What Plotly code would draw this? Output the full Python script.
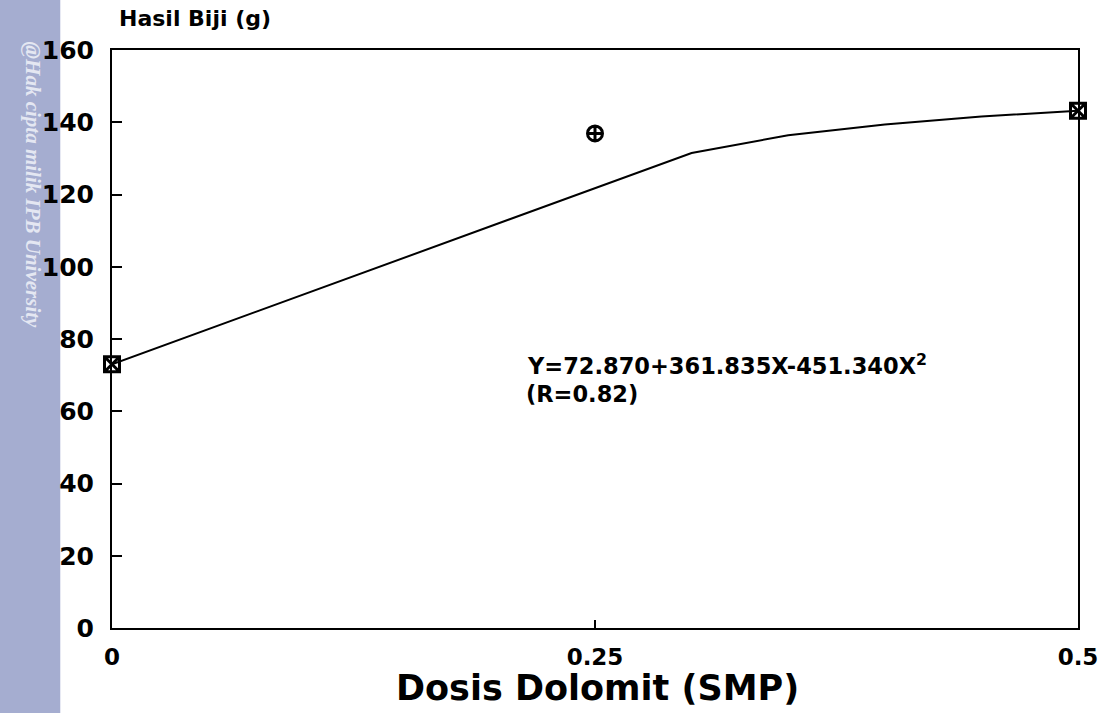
import plotly.graph_objects as go

# Observed data points (Dosis Dolomit vs Hasil Biji)
dose_obs = [0, 0.25, 0.5]
yield_obs = [73.0, 136.9, 143.2]

# Fitted curve as drawn in the figure (vertices)
dose_fit = [0, 0.30, 0.35, 0.40, 0.45, 0.5]
yield_fit = [73.0, 131.5, 136.4, 139.4, 141.6, 143.2]

x_ticks = [0, 0.25, 0.5]
x_ticktext = ["0", "0.25", "0.5"]
y_ticks = [0, 20, 40, 60, 80, 100, 120, 140, 160]

W, H = 1110, 713
L, R, T, B = 112, 27, 50, 85
pw, ph = W - L - R, H - T - B

def px(x):
    return (x - L) / pw

def py(y):
    return 1 - (y - T) / ph

FONT = "DejaVu Sans, Verdana, sans-serif"

fig = go.Figure()
fig.add_trace(go.Scatter(
    x=dose_fit, y=yield_fit, mode="lines",
    line=dict(color="black", width=2), cliponaxis=False, showlegend=False,
))
fig.add_trace(go.Scatter(
    x=dose_obs, y=yield_obs, mode="markers",
    marker=dict(symbol=["square-x-open", "circle-cross-open", "square-x-open"],
                size=15, color="black", line=dict(width=3, color="black")),
    cliponaxis=False, showlegend=False,
))

# left watermark strip
fig.add_shape(type="rect", xref="paper", yref="paper",
              x0=px(-2), x1=px(60), y0=py(H + 5), y1=py(-5),
              fillcolor="#A5ADD0", line=dict(width=0), layer="below")
fig.add_annotation(xref="paper", yref="paper", x=px(33), y=py(185),
                   xanchor="center", yanchor="middle",
                   text="<i><b>@Hak cipta milik IPB University</b></i>",
                   textangle=90, showarrow=False,
                   font=dict(family="Liberation Serif, DejaVu Serif, serif", size=21, color="#E4E7F2"))

fig.add_annotation(xref="paper", yref="paper", x=px(117), y=py(19), xanchor="left",
                   yanchor="middle", text="Hasil Biji (g)", showarrow=False,
                   font=dict(family=FONT, size=22, color="black", weight="bold"))
fig.add_annotation(xref="paper", yref="paper", x=px(600), y=py(688),
                   yanchor="middle", text="Dosis Dolomit (SMP)", showarrow=False,
                   font=dict(family=FONT, size=35, color="black", weight="bold"))
fig.add_annotation(xref="paper", yref="paper", x=px(527), y=py(364), xanchor="left",
                   yanchor="middle", text="Y=72.870+361.835X-451.340X<sup>2</sup>", showarrow=False,
                   font=dict(family=FONT, size=22.5, color="black", weight="bold"))
fig.add_annotation(xref="paper", yref="paper", x=px(526), y=py(394), xanchor="left",
                   yanchor="middle", text="(R=0.82)", showarrow=False,
                   font=dict(family=FONT, size=22.5, color="black", weight="bold"))

fig.update_xaxes(range=[0, 0.5], tickvals=x_ticks, ticktext=x_ticktext,
                 ticks="inside", ticklen=8, tickwidth=2, tickcolor="black",
                 showline=True, linecolor="black", linewidth=2, mirror=True,
                 showgrid=False, zeroline=False, ticklabelstandoff=7,
                 tickfont=dict(family=FONT, size=23, color="black", weight="bold"))
fig.update_yaxes(range=[0, 160], tickvals=y_ticks,
                 ticks="inside", ticklen=10, tickwidth=2, tickcolor="black",
                 showline=True, linecolor="black", linewidth=2, mirror=True,
                 showgrid=False, zeroline=False, ticklabelstandoff=11,
                 tickfont=dict(family=FONT, size=25, color="black", weight="bold"))

fig.update_layout(width=W, height=H, margin=dict(l=L, r=R, t=T, b=B),
                  plot_bgcolor="white", paper_bgcolor="white", showlegend=False)

fig.write_html("out.html", config={"displayModeBar": False},
               post_script="document.body.style.margin='0px';")
